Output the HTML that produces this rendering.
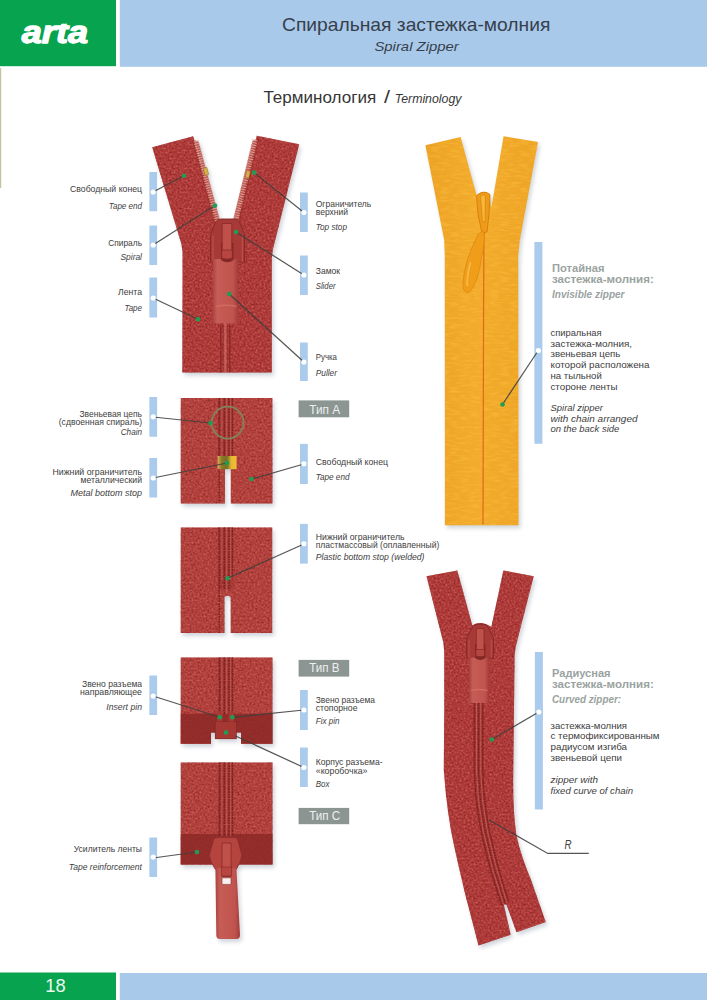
<!DOCTYPE html>
<html lang="ru">
<head>
<meta charset="utf-8">
<title>Спиральная застежка-молния / Spiral Zipper — Терминология</title>
<style>
html,body{margin:0;padding:0;background:#fff;}
body{width:707px;height:1000px;overflow:hidden;position:relative;}
svg{display:block;position:absolute;left:0;top:0;}
text{font-family:"Liberation Sans",sans-serif;}
</style>
</head>
<body>
<svg width="707" height="1000" viewBox="0 0 707 1000">
<defs>
<clipPath id="logoclip"><rect x="0" y="23.8" width="116" height="30"/></clipPath>
<filter id="sh" x="-10%" y="-10%" width="125%" height="125%" color-interpolation-filters="sRGB">
  <feGaussianBlur in="SourceAlpha" stdDeviation="2.2" result="b"/>
  <feOffset in="b" dx="2" dy="2.5" result="o"/>
  <feComponentTransfer in="o" result="s"><feFuncA type="linear" slope="0.33"/></feComponentTransfer>
  <feFlood flood-color="#6f7f90" result="c"/>
  <feComposite in="c" in2="s" operator="in" result="cs"/>
  <feMerge><feMergeNode in="cs"/><feMergeNode in="SourceGraphic"/></feMerge>
</filter>
<filter id="tex" x="0" y="0" width="100%" height="100%" color-interpolation-filters="sRGB">
  <feTurbulence type="fractalNoise" baseFrequency="0.5" numOctaves="2" seed="7" result="n"/>
  <feColorMatrix in="n" type="matrix" values="0 0 0 0 0.80  0 0 0 0 0.38  0 0 0 0 0.35  2.0 0 0 0 -0.8" result="w"/>
  <feGaussianBlur in="w" stdDeviation="0.7" result="wb"/>
  <feComposite in="wb" in2="SourceGraphic" operator="in" result="wm"/>
  <feColorMatrix in="n" type="matrix" values="0 0 0 0 0.55  0 0 0 0 0.13  0 0 0 0 0.13  0 1.9 0 0 -0.82" result="d"/>
  <feGaussianBlur in="d" stdDeviation="0.7" result="db"/>
  <feComposite in="db" in2="SourceGraphic" operator="in" result="dm"/>
  <feMerge><feMergeNode in="SourceGraphic"/><feMergeNode in="dm"/><feMergeNode in="wm"/></feMerge>
</filter>
<filter id="texy" x="0" y="0" width="100%" height="100%" color-interpolation-filters="sRGB">
  <feTurbulence type="fractalNoise" baseFrequency="0.1 0.45" numOctaves="2" seed="3" result="n"/>
  <feColorMatrix in="n" type="matrix" values="0 0 0 0 1  0 0 0 0 0.76  0 0 0 0 0.28  1.1 0 0 0 -0.45" result="w"/>
  <feGaussianBlur in="w" stdDeviation="0.6" result="wb"/>
  <feComposite in="wb" in2="SourceGraphic" operator="in" result="wm"/>
  <feMerge><feMergeNode in="SourceGraphic"/><feMergeNode in="wm"/></feMerge>
</filter>
<filter id="soft"><feGaussianBlur stdDeviation="0.5"/></filter>
<filter id="glow" x="-100%" y="-100%" width="300%" height="300%"><feGaussianBlur stdDeviation="0.7"/></filter>
<linearGradient id="pullg" x1="0" y1="0" x2="1" y2="0">
  <stop offset="0" stop-color="#aa4440"/><stop offset="0.18" stop-color="#c65d56"/><stop offset="0.8" stop-color="#c0534d"/><stop offset="1" stop-color="#a23b38"/>
</linearGradient>
<linearGradient id="yg" x1="0" y1="0" x2="1" y2="0">
  <stop offset="0" stop-color="#eda223"/><stop offset="0.45" stop-color="#f2ab2b"/><stop offset="1" stop-color="#eea424"/>
</linearGradient>
<linearGradient id="gold" x1="0" y1="0" x2="1" y2="0">
  <stop offset="0" stop-color="#dcae5a"/><stop offset="0.22" stop-color="#8a7a26"/><stop offset="0.5" stop-color="#75702a"/><stop offset="0.72" stop-color="#e8b92e"/><stop offset="1" stop-color="#f0bf38"/>
</linearGradient>
</defs>
<rect x="0" y="0" width="116" height="66.2" fill="#08a34f"/>
<rect x="119.8" y="0" width="587.2" height="66.8" fill="#a9c9ea"/>
<rect x="0" y="972.5" width="116" height="27.5" fill="#08a34f"/>
<rect x="119.8" y="973" width="587.2" height="27" fill="#a9c9ea"/>
<rect x="0" y="68" width="1.2" height="120" fill="#c6c2a0"/>
<g id="bars" fill="#aacbec">
<rect x="149.4" y="172" width="7.7" height="39.25"/>
<rect x="149.4" y="225.5" width="7.7" height="39.50"/>
<rect x="149.4" y="277.5" width="7.7" height="40.00"/>
<rect x="149.4" y="397" width="7.7" height="39.75"/>
<rect x="149.4" y="458" width="7.7" height="39.50"/>
<rect x="149.4" y="675.5" width="7.7" height="39.50"/>
<rect x="149.4" y="837.5" width="7.7" height="39.50"/>
<rect x="300" y="192.5" width="7.8" height="39.50"/>
<rect x="300" y="255.5" width="7.8" height="39.50"/>
<rect x="300" y="342.5" width="7.8" height="38.50"/>
<rect x="300" y="443.9" width="7.8" height="40.10"/>
<rect x="300" y="523.9" width="7.8" height="39.70"/>
<rect x="300" y="690" width="7.8" height="40.00"/>
<rect x="300" y="747.5" width="7.8" height="39.50"/>
<rect x="534.4" y="242" width="8" height="201.75"/>
<rect x="534.9" y="652" width="8" height="157.5"/>
</g>
<g id="tags" fill="#8b9592">
<rect x="298.6" y="400.4" width="50.6" height="16.90"/>
<rect x="298.6" y="659.9" width="50.6" height="16.70"/>
<rect x="298.6" y="807.9" width="50.6" height="16.30"/>
</g>
<g id="piece1" filter="url(#sh)">
<g filter="url(#tex)">
<path d="M152.2 147.3 L193.2 136.3 L216.5 221 Q226 232 237 219 L256.8 135.8 L299.2 144.2 L273 249 L271.8 258 L271.8 372.5 L182.3 372.5 L182.6 252 L181.4 244 Z" fill="#aa3535"/>
</g>
<path d="M194.6 140 L198.6 142 L220 220.5 L216.3 221 Z" fill="#bd5a54"/>
<path d="M256.6 139 L252.6 141 L233 220.5 L237 219.5 Z" fill="#bd5a54"/>
<g stroke="#dea096" stroke-width="5.5" fill="none" stroke-dasharray="0.9 1.5">
<path d="M196.2 141 L217.6 221"/>
<path d="M255 140 L235.6 220"/>
</g>
<g stroke="#8f2c29" stroke-width="0.9" fill="none" opacity="0.6">
<path d="M192.5 140 L213.6 221.5"/><path d="M258.6 139 L239.6 219.5"/>
</g>
<path d="M203.2 168.5 l3.6 -1.2 l1.9 7 l-3.5 1.2 z" fill="#d8b04a" stroke="#8d6a22" stroke-width="0.5"/>
<path d="M246.8 170.5 l3.6 0.9 l-1.7 6.8 l-3.5 -0.9 z" fill="#d8b04a" stroke="#8d6a22" stroke-width="0.5"/>
<g stroke="#7f2523" stroke-width="1.3" opacity="0.8">
<path d="M220.8 322 V372.5"/><path d="M229.8 322 V372.5"/>
</g>
<path d="M225.3 322 V372.5" stroke="#cf6a60" stroke-width="2.2" opacity="0.75"/>
<path d="M223 322 V372.5 M227.6 322 V372.5" stroke="#8a2a28" stroke-width="0.8" opacity="0.6"/>
<path d="M215.5 222 Q217 219.3 221 219 L234 219 Q238 219.3 239.5 222 L244.6 234 L244.6 262 L210.6 262 L210.6 235 Z" fill="#a73a36" stroke="#7f2727" stroke-width="0.9"/>
<path d="M213 236 L213 262 M242.4 236 L242.4 262" stroke="#c2574f" stroke-width="1.2" opacity="0.7"/>
<path d="M213 259 L238.3 259 L238.3 320 Q238.3 323.4 235 323.4 L216 323.4 Q212.6 323.4 212.6 320 Z" fill="url(#pullg)"/>
<path d="M221 243 h12.5 v17 q-6.2 4.5 -12.5 0 z" fill="#862826"/>
<path d="M222.2 223.5 h9.6 v29 h-9.6 z" fill="#c0504a" stroke="#7f2626" stroke-width="0.7"/>
<path d="M221.6 250 h10.8 v8.2 q-5.4 1.8 -10.8 0 z" fill="#b84640" stroke="#7f2626" stroke-width="0.7"/>
<path d="M215.5 306.5 Q226 304 236.5 306.5" stroke="#d67168" stroke-width="1.5" opacity="0.75" fill="none"/>
</g>
<g id="piece2" filter="url(#sh)">
<g filter="url(#tex)">
<path d="M180.75 398 H272.4 V503.6 H230.8 V469 H225 V503.6 H180.75 Z" fill="#b03e3a"/>
</g>
<rect x="218" y="398" width="15.6" height="58" fill="#8e2828" opacity="0.35"/>
<g stroke="#6f1f1e" stroke-width="1.3" opacity="0.9" stroke-dasharray="1.8 0.8">
<path d="M219.2 398 V503"/><path d="M224.3 398 V456"/><path d="M229 398 V456"/><path d="M232.3 398 V456"/>
</g>
<path d="M221.9 398 V456 M226.7 398 V456 M230.7 398 V456" stroke="#cc655c" stroke-width="1" opacity="0.7"/>
<rect x="217.6" y="456" width="19" height="13.2" fill="url(#gold)"/>
<circle cx="227.6" cy="422.6" r="16" fill="none" stroke="#7f8459" stroke-width="1.8"/>
</g>
<g id="piece3" filter="url(#sh)">
<g filter="url(#tex)">
<path d="M180.75 527.5 H272.2 V633 H230.7 V597 Q227.6 594.3 224.5 597 V633 H180.75 Z" fill="#b03e3a"/>
</g>
<rect x="218" y="527.5" width="15.6" height="62" fill="#8e2828" opacity="0.35"/>
<g stroke="#6f1f1e" stroke-width="1.3" opacity="0.9" stroke-dasharray="1.8 0.8">
<path d="M219.2 527.5 V633"/><path d="M224.3 527.5 V590"/><path d="M229 527.5 V590"/><path d="M232.3 527.5 V575"/>
</g>
<path d="M221.9 527.5 V580 M226.7 527.5 V594 M230.7 527.5 V580" stroke="#cc655c" stroke-width="1" opacity="0.7"/>
</g>
<g id="piece4" filter="url(#sh)">
<g filter="url(#tex)">
<path d="M180.75 657.5 H272.5 V743.75 H241 V732.5 H236 V739 H215 V732.5 H211 V743.75 H180.75 Z" fill="#b03e3a"/>
</g>
<path d="M180.75 713.75 H272.5 V743.75 H241 V732.5 H211 V743.75 H180.75 Z" fill="#8c2927" opacity="0.85"/>
<rect x="218" y="657.5" width="15.6" height="56" fill="#8e2828" opacity="0.35"/>
<g stroke="#6f1f1e" stroke-width="1.3" opacity="0.9" stroke-dasharray="1.8 0.8">
<path d="M219.6 657.5 V714"/><path d="M224.3 657.5 V714"/><path d="M229 657.5 V714"/><path d="M232.3 657.5 V714"/>
</g>
<path d="M221.9 657.5 V714 M226.7 657.5 V714 M230.7 657.5 V714" stroke="#cc655c" stroke-width="1" opacity="0.7"/>
<rect x="215.2" y="721.5" width="21.2" height="17.3" fill="#a63833" stroke="#7f2625" stroke-width="0.6"/>
<rect x="217" y="711" width="5.5" height="10.5" fill="#a63934"/>
<rect x="228.5" y="711" width="5.5" height="10.5" fill="#a63934"/>
</g>
<g id="piece5" filter="url(#sh)">
<g filter="url(#tex)">
<path d="M180.75 762.5 H272.5 V864.5 H180.75 Z" fill="#b03e3a"/>
</g>
<rect x="180.75" y="834" width="91.75" height="30.5" fill="#8c2927" opacity="0.85"/>
<rect x="218" y="762.5" width="15.6" height="72" fill="#8e2828" opacity="0.35"/>
<g stroke="#6f1f1e" stroke-width="1.3" opacity="0.9" stroke-dasharray="1.8 0.8">
<path d="M219.6 762.5 V836"/><path d="M224.3 762.5 V836"/><path d="M229 762.5 V836"/><path d="M232.3 762.5 V836"/>
</g>
<path d="M221.9 762.5 V836 M226.7 762.5 V836 M230.7 762.5 V836" stroke="#cc655c" stroke-width="1" opacity="0.7"/>
<path d="M213.6 840 Q214 837.6 217 837.6 L234.5 837.6 Q237.4 837.6 237.8 840 L241.8 855 Q241 862 236.4 869.4 L215.4 869.4 Q210.3 862 209.4 855 Z" fill="#b5443e" stroke="#8a2b2a" stroke-width="0.7"/>
<path d="M215.4 868 L236.4 868 L240 935 Q240 939 236.3 939 L219.8 939 Q216.3 939 216.3 935 Z" fill="url(#pullg)"/>
<path d="M222 843 h9 v33.6 h-9 z" fill="#c0504a" stroke="#862927" stroke-width="0.8"/>
<path d="M221.4 867 h10.2 v9 h-10.2 z" fill="#b84640" stroke="#862927" stroke-width="0.6"/>
<rect x="222" y="877.8" width="9" height="6.6" rx="0.8" fill="#f6f1f0" stroke="#8a2b2a" stroke-width="0.6"/>
</g>
<g id="yellow" filter="url(#sh)">
<g filter="url(#texy)">
<path d="M425.4 145.2 L460.6 137 L476.5 195 Q483 189.5 489.5 194 L491.3 208 L503.6 136.2 L538 142 L519.7 241 L518.2 256 L518.5 525.3 L444.9 525.3 L444.8 256 L444.2 240 Z" fill="url(#yg)"/>
</g>
<path d="M484 232 L483.6 300 L483 524.5" stroke="#e0691c" stroke-width="1.2" fill="none"/>
<path d="M476.5 196 Q483 189 490 194.5 L489 214 L487 232 L482 233 L478 214 Z" fill="#ee9c18" stroke="#cf7710" stroke-width="0.8"/>
<path d="M480.5 196 Q483 193.5 485.5 196 L485 222 L482.5 222 Z" fill="#f6b637" stroke="#d27a10" stroke-width="0.6"/>
<path d="M483.6 231 Q485.5 240 481.5 258 Q477.5 286 469 292.3 Q462.3 293.5 462.8 282 Q464.5 262 478 234 Z" fill="#f09d1a" stroke="#d9820f" stroke-width="0.6"/>
<path d="M470.5 262 Q466.5 277 467.3 286" stroke="#f9c355" stroke-width="1.8" fill="none" opacity="0.75"/>
</g>
<g id="curved" filter="url(#sh)">
<g filter="url(#tex)">
<path d="M426.5 576.3 L457.3 570.4 L472.3 625.5 Q481 620 491.3 627 L503.4 570.4 L533.7 576.2 L515.6 647 L514.6 656 L513.3 770 Q512.5 808 516.3 835 Q521 856 530.7 879 L545.7 922 L516.5 932.2 L506.5 904.8 L503.7 904.2 L510.7 934.7 L478.5 945.5 L465.3 894.5 Q459 868 454.5 847.8 Q447 815 443.8 770 L444.3 700 L444.2 652 L443.5 643 Z" fill="#aa3535"/>
</g>
<path d="M478.6 702 L478.6 770 Q479.3 800 485 830 Q493 868 505.3 904" fill="none" stroke="#8e2828" stroke-width="10" opacity="0.35"/>
<g fill="none" stroke="#6f1f1e" stroke-width="1.2" opacity="0.9" stroke-dasharray="1.8 0.8">
<path d="M474.3 702 L474.3 770 Q475 800 481 830 Q489 868 501.8 905"/>
<path d="M478.6 702 L478.6 770 Q479.3 800 485 830 Q493 868 505.5 904"/>
<path d="M482.8 702 L482.8 770 Q483.5 800 489 829 Q497 866 508.6 902"/>
</g>
<g fill="none" stroke="#cc655c" stroke-width="1" opacity="0.7">
<path d="M476.5 702 L476.5 770 Q477.2 800 483 830 Q491 868 503.6 904.5"/>
<path d="M480.7 702 L480.7 770 Q481.4 800 487 829.5 Q495 867 507 903"/>
</g>
<path d="M472.5 627 Q474 624.3 477.5 624.2 L483 624.2 Q486.5 624.3 488 627 L493.5 638 L493.5 658 L466.7 658 L466.7 638 Z" fill="#a73a36" stroke="#7f2727" stroke-width="0.9"/>
<path d="M469 640 V658 M491.3 640 V658" stroke="#c2574f" stroke-width="1.1" opacity="0.7"/>
<path d="M469.3 657.5 L489 657.5 L489 700 Q489 703 486 703 L472.3 703 Q469.3 703 469.3 700 Z" fill="url(#pullg)"/>
<path d="M475 644 h10.4 v14 q-5.2 4 -10.4 0 z" fill="#862826"/>
<path d="M476.3 628.6 h7.7 v22 h-7.7 z" fill="#c0504a" stroke="#7f2626" stroke-width="0.7"/>
<path d="M475.8 649.5 h8.7 v6.5 q-4.3 1.6 -8.7 0 z" fill="#b84640" stroke="#7f2626" stroke-width="0.7"/>
<path d="M471 690.5 Q479 688.5 487.5 690.5" stroke="#d67168" stroke-width="1.4" opacity="0.75" fill="none"/>
</g>
<g id="leaders" stroke="#3e3e3c" stroke-width="1.2" fill="none" opacity="0.88">
<path d="M153 192 L184 175.8"/>
<path d="M153 245 L215 205.6"/>
<path d="M153 298 L198 319.3"/>
<path d="M254.2 172.6 L303.9 212.5"/>
<path d="M236 232 L303.9 275"/>
<path d="M229.2 294 L303.9 362"/>
<path d="M153 417 L210.5 423"/>
<path d="M153 478 L227 463"/>
<path d="M303.9 464 L251.4 479"/>
<path d="M303.9 544 L227.6 578.2"/>
<path d="M153 696 L219.8 717.3"/>
<path d="M303.9 710 L232.4 717.3"/>
<path d="M235.6 736 L303.9 767.5"/>
<path d="M153 858 L197 852"/>
<path d="M538.25 350.5 L502.5 404.5"/>
<path d="M538.8 712 L491.75 739.5"/>
<path d="M488.7 819.8 L547.8 853.4 H588.8"/>
</g>
<g id="gdots" fill="#1f9d55">
<circle cx="184" cy="175.8" r="2.3"/>
<circle cx="215" cy="205.6" r="2.3"/>
<circle cx="198" cy="319.3" r="2.3"/>
<circle cx="254.2" cy="172.6" r="2.3"/>
<circle cx="236" cy="232" r="2.3"/>
<circle cx="229.2" cy="294" r="2.3"/>
<circle cx="210.5" cy="423" r="2.3"/>
<circle cx="227" cy="463" r="2.3"/>
<circle cx="251.4" cy="479" r="2.3"/>
<circle cx="227.6" cy="578.2" r="2.3"/>
<circle cx="219.8" cy="717.3" r="2.3"/>
<circle cx="232.4" cy="717.3" r="2.3"/>
<circle cx="226" cy="732.5" r="2.3"/>
<circle cx="197" cy="852" r="2.3"/>
<circle cx="502.5" cy="404.5" r="2.3"/>
<circle cx="491.75" cy="739.5" r="2.3"/>
</g>
<g id="wdots" fill="#ffffff">
<circle cx="153.25" cy="192" r="2.6"/>
<circle cx="153.25" cy="245" r="2.6"/>
<circle cx="153.25" cy="298" r="2.6"/>
<circle cx="153.25" cy="416.75" r="2.6"/>
<circle cx="153.25" cy="478" r="2.6"/>
<circle cx="153.25" cy="696" r="2.6"/>
<circle cx="153.25" cy="857" r="2.6"/>
<circle cx="303.9" cy="212.5" r="2.6"/>
<circle cx="303.9" cy="275" r="2.6"/>
<circle cx="303.9" cy="362" r="2.6"/>
<circle cx="303.9" cy="463.75" r="2.6"/>
<circle cx="303.9" cy="543.75" r="2.6"/>
<circle cx="303.9" cy="710" r="2.6"/>
<circle cx="303.9" cy="767.5" r="2.6"/>
<circle cx="538.4" cy="350.5" r="2.6"/>
<circle cx="538.8" cy="712" r="2.6"/>
</g>
<g id="labels" fill="#404040">
<text x="21.80" y="43.00" font-size="31.5" textLength="66.20" lengthAdjust="spacingAndGlyphs" font-style="italic" font-weight="bold" fill="#ffffff" stroke="#ffffff" stroke-width="1.3" stroke-linejoin="round" clip-path="url(#logoclip)">arta</text>
<text x="282.00" y="30.80" font-size="18.2" textLength="268.40" lengthAdjust="spacingAndGlyphs" fill="#36404c">Спиральная застежка-молния</text>
<text x="374.40" y="51.20" font-size="13.6" textLength="84.40" lengthAdjust="spacingAndGlyphs" font-style="italic" fill="#36404c">Spiral Zipper</text>
<text x="263.40" y="103.00" font-size="17.0" textLength="112.80" lengthAdjust="spacingAndGlyphs" fill="#363636">Терминология</text>
<text x="384.00" y="103.40" font-size="18.5" textLength="6.00" lengthAdjust="spacingAndGlyphs" fill="#363636">/</text>
<text x="394.80" y="103.00" font-size="12.6" textLength="66.60" lengthAdjust="spacingAndGlyphs" font-style="italic" fill="#363636">Terminology</text>
<text x="45.20" y="991.60" font-size="18.2" textLength="20.40" lengthAdjust="spacingAndGlyphs" fill="#e9f9ee">18</text>
<text x="70.00" y="191.90" font-size="8.4" textLength="72.00" lengthAdjust="spacingAndGlyphs">Свободный конец</text>
<text x="108.75" y="208.90" font-size="8.4" textLength="33.25" lengthAdjust="spacingAndGlyphs" font-style="italic">Tape end</text>
<text x="108.25" y="245.50" font-size="8.4" textLength="33.75" lengthAdjust="spacingAndGlyphs">Спираль</text>
<text x="120.50" y="259.80" font-size="8.4" textLength="21.50" lengthAdjust="spacingAndGlyphs" font-style="italic">Spiral</text>
<text x="118.00" y="295.40" font-size="8.4" textLength="24.00" lengthAdjust="spacingAndGlyphs">Лента</text>
<text x="124.50" y="310.90" font-size="8.4" textLength="17.50" lengthAdjust="spacingAndGlyphs" font-style="italic">Tape</text>
<text x="79.50" y="416.65" font-size="8.4" textLength="62.50" lengthAdjust="spacingAndGlyphs">Звеньевая цепь</text>
<text x="58.75" y="425.00" font-size="8.4" textLength="83.25" lengthAdjust="spacingAndGlyphs">(сдвоенная спираль)</text>
<text x="120.75" y="434.65" font-size="8.4" textLength="21.25" lengthAdjust="spacingAndGlyphs" font-style="italic">Chain</text>
<text x="52.50" y="474.60" font-size="8.4" textLength="89.50" lengthAdjust="spacingAndGlyphs">Нижний ограничитель</text>
<text x="80.50" y="482.60" font-size="8.4" textLength="61.50" lengthAdjust="spacingAndGlyphs">металлический</text>
<text x="70.50" y="496.30" font-size="8.4" textLength="71.50" lengthAdjust="spacingAndGlyphs" font-style="italic">Metal bottom stop</text>
<text x="82.00" y="687.15" font-size="8.4" textLength="60.00" lengthAdjust="spacingAndGlyphs">Звено разъема</text>
<text x="80.00" y="695.00" font-size="8.4" textLength="62.00" lengthAdjust="spacingAndGlyphs">направляющее</text>
<text x="106.25" y="709.65" font-size="8.4" textLength="35.75" lengthAdjust="spacingAndGlyphs" font-style="italic">Insert pin</text>
<text x="73.75" y="852.40" font-size="8.4" textLength="68.25" lengthAdjust="spacingAndGlyphs">Усилитель ленты</text>
<text x="68.75" y="870.40" font-size="8.4" textLength="73.25" lengthAdjust="spacingAndGlyphs" font-style="italic">Tape reinforcement</text>
<text x="315.75" y="206.90" font-size="8.4" textLength="55.50" lengthAdjust="spacingAndGlyphs">Ограничитель</text>
<text x="315.75" y="215.20" font-size="8.4" textLength="32.25" lengthAdjust="spacingAndGlyphs">верхний</text>
<text x="315.75" y="229.60" font-size="8.4" textLength="31.25" lengthAdjust="spacingAndGlyphs" font-style="italic">Top stop</text>
<text x="315.75" y="273.65" font-size="8.4" textLength="24.25" lengthAdjust="spacingAndGlyphs">Замок</text>
<text x="315.75" y="288.90" font-size="8.4" textLength="19.75" lengthAdjust="spacingAndGlyphs" font-style="italic">Slider</text>
<text x="315.75" y="360.40" font-size="8.4" textLength="21.25" lengthAdjust="spacingAndGlyphs">Ручка</text>
<text x="315.75" y="375.90" font-size="8.4" textLength="21.25" lengthAdjust="spacingAndGlyphs" font-style="italic">Puller</text>
<text x="315.75" y="464.65" font-size="8.4" textLength="72.25" lengthAdjust="spacingAndGlyphs">Свободный конец</text>
<text x="315.75" y="480.40" font-size="8.4" textLength="33.75" lengthAdjust="spacingAndGlyphs" font-style="italic">Tape end</text>
<text x="315.75" y="539.50" font-size="8.4" textLength="88.75" lengthAdjust="spacingAndGlyphs">Нижний ограничитель</text>
<text x="315.75" y="547.80" font-size="8.4" textLength="123.50" lengthAdjust="spacingAndGlyphs">пластмассовый (оплавленный)</text>
<text x="315.75" y="560.40" font-size="8.4" textLength="108.75" lengthAdjust="spacingAndGlyphs" font-style="italic">Plastic bottom stop (welded)</text>
<text x="315.75" y="702.90" font-size="8.4" textLength="59.25" lengthAdjust="spacingAndGlyphs">Звено разъема</text>
<text x="315.75" y="710.90" font-size="8.4" textLength="41.75" lengthAdjust="spacingAndGlyphs">стопорное</text>
<text x="315.75" y="723.90" font-size="8.4" textLength="23.75" lengthAdjust="spacingAndGlyphs" font-style="italic">Fix pin</text>
<text x="315.75" y="765.40" font-size="8.4" textLength="66.75" lengthAdjust="spacingAndGlyphs">Корпус разъема-</text>
<text x="315.75" y="773.65" font-size="8.4" textLength="51.75" lengthAdjust="spacingAndGlyphs">«коробочка»</text>
<text x="315.75" y="787.15" font-size="8.4" textLength="13.75" lengthAdjust="spacingAndGlyphs" font-style="italic">Box</text>
<text x="309.30" y="413.90" font-size="12.8" textLength="30.90" lengthAdjust="spacingAndGlyphs" fill="#eef1f0">Тип A</text>
<text x="309.30" y="672.10" font-size="12.8" textLength="30.30" lengthAdjust="spacingAndGlyphs" fill="#eef1f0">Тип B</text>
<text x="309.30" y="820.20" font-size="12.8" textLength="30.90" lengthAdjust="spacingAndGlyphs" fill="#eef1f0">Тип C</text>
<text x="552.00" y="272.00" font-size="11.2" textLength="52.50" lengthAdjust="spacingAndGlyphs" font-weight="bold" fill="#9aa3a1">Потайная</text>
<text x="552.00" y="283.00" font-size="11.2" textLength="101.75" lengthAdjust="spacingAndGlyphs" font-weight="bold" fill="#9aa3a1">застежка-молния:</text>
<text x="552.00" y="298.00" font-size="11.2" textLength="72.50" lengthAdjust="spacingAndGlyphs" font-style="italic" font-weight="bold" fill="#9aa3a1">Invisible zipper</text>
<text x="550.50" y="335.80" font-size="9.5" textLength="51.10" lengthAdjust="spacingAndGlyphs">спиральная</text>
<text x="550.50" y="346.55" font-size="9.5" textLength="81.50" lengthAdjust="spacingAndGlyphs">застежка-молния,</text>
<text x="550.50" y="357.30" font-size="9.5" textLength="69.80" lengthAdjust="spacingAndGlyphs">звеньевая цепь</text>
<text x="550.50" y="368.05" font-size="9.5" textLength="99.00" lengthAdjust="spacingAndGlyphs">которой расположена</text>
<text x="550.50" y="378.80" font-size="9.5" textLength="51.30" lengthAdjust="spacingAndGlyphs">на тыльной</text>
<text x="550.50" y="389.55" font-size="9.5" textLength="66.90" lengthAdjust="spacingAndGlyphs">стороне ленты</text>
<text x="550.50" y="410.90" font-size="9.5" textLength="52.50" lengthAdjust="spacingAndGlyphs" font-style="italic">Spiral zipper</text>
<text x="550.50" y="421.50" font-size="9.5" textLength="87.00" lengthAdjust="spacingAndGlyphs" font-style="italic">with chain arranged</text>
<text x="550.50" y="432.20" font-size="9.5" textLength="68.75" lengthAdjust="spacingAndGlyphs" font-style="italic">on the back side</text>
<text x="552.00" y="677.00" font-size="11.2" textLength="58.50" lengthAdjust="spacingAndGlyphs" font-weight="bold" fill="#9aa3a1">Радиусная</text>
<text x="552.00" y="688.00" font-size="11.2" textLength="101.75" lengthAdjust="spacingAndGlyphs" font-weight="bold" fill="#9aa3a1">застежка-молния:</text>
<text x="552.00" y="703.00" font-size="11.2" textLength="69.00" lengthAdjust="spacingAndGlyphs" font-style="italic" font-weight="bold" fill="#9aa3a1">Curved zipper:</text>
<text x="550.50" y="728.50" font-size="9.5" textLength="76.50" lengthAdjust="spacingAndGlyphs">застежка-молния</text>
<text x="550.50" y="739.25" font-size="9.5" textLength="109.00" lengthAdjust="spacingAndGlyphs">с термофиксированным</text>
<text x="550.50" y="750.00" font-size="9.5" textLength="76.50" lengthAdjust="spacingAndGlyphs">радиусом изгиба</text>
<text x="550.50" y="760.50" font-size="9.5" textLength="71.50" lengthAdjust="spacingAndGlyphs">звеньевой цепи</text>
<text x="550.50" y="783.00" font-size="9.5" textLength="47.50" lengthAdjust="spacingAndGlyphs" font-style="italic">zipper with</text>
<text x="550.50" y="793.50" font-size="9.5" textLength="82.50" lengthAdjust="spacingAndGlyphs" font-style="italic">fixed curve of chain</text>
<text x="564.60" y="848.90" font-size="12.2" textLength="7.00" lengthAdjust="spacingAndGlyphs" font-style="italic">R</text>
</g>
</svg>
</body>
</html>
